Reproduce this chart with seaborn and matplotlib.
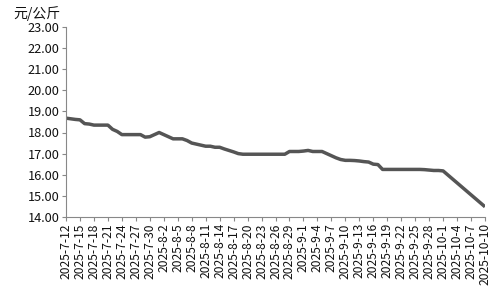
import matplotlib
matplotlib.use("Agg")
import matplotlib.pyplot as plt
import matplotlib.dates as mdates
import seaborn as sns
import pandas as pd

# daily dates 2025-7-12 .. 2025-10-1, then 2025-10-10
dates_main = pd.date_range("2025-07-12", "2025-10-01", freq="D")
dates = list(dates_main) + [pd.Timestamp("2025-10-10")]

prices = [
    18.68, 18.65, 18.62, 18.60, 18.42, 18.40, 18.35, 18.35, 18.35, 18.35,  # 7-12..7-21
    18.15, 18.05, 17.90, 17.90, 17.90, 17.90, 17.90, 17.78, 17.80, 17.90,  # 7-22..7-31
    18.00, 17.90, 17.80, 17.70, 17.70, 17.70, 17.62, 17.50, 17.45, 17.40,  # 8-1..8-10
    17.35, 17.35, 17.30, 17.30, 17.22, 17.15, 17.08, 17.00, 16.97, 16.97,  # 8-11..8-20
    16.97, 16.97, 16.97, 16.97, 16.97, 16.97, 16.97, 16.97, 17.10, 17.10,  # 8-21..8-30
    17.10, 17.12, 17.15, 17.10, 17.10, 17.10, 17.00, 16.90, 16.80, 16.72,  # 8-31..9-9
    16.68, 16.68, 16.67, 16.65, 16.62, 16.60, 16.50, 16.48, 16.25, 16.25,  # 9-10..9-19
    16.25, 16.25, 16.25, 16.25, 16.25, 16.25, 16.25, 16.24, 16.22, 16.20,  # 9-20..9-29
    16.20, 16.18,                                                          # 9-30..10-1
    14.48,                                                                 # 10-10
]

tick_dates = pd.date_range("2025-07-12", "2025-10-10", freq="3D")
tick_labels = [f"{d.year}-{d.month}-{d.day}" for d in tick_dates]
y_ticks = [14, 15, 16, 17, 18, 19, 20, 21, 22, 23]
unit_label = "元/公斤"

df = pd.DataFrame({"date": dates, "price": prices})

sns.set_theme(style="white")
plt.rcParams["font.family"] = ["Noto Sans CJK SC", "DejaVu Sans"]

fig = plt.figure(figsize=(5, 3), dpi=100)
ax = fig.add_axes([0.132, 0.277, 0.838, 0.633])

sns.lineplot(data=df, x="date", y="price", ax=ax, color="#555555",
             linewidth=2.5, solid_capstyle="butt")

ax.set_xlim(pd.Timestamp("2025-07-12"), pd.Timestamp("2025-10-10"))
ax.set_ylim(14, 23)
ax.set_yticks(y_ticks)
ax.set_yticklabels([f"{v:.2f}" for v in y_ticks], fontsize=9.2, color="#111111",
                   fontweight="medium")
ax.set_xticks(tick_dates)
ax.set_xticklabels(tick_labels, rotation=90, fontsize=8.7, color="#111111",
                   fontweight="medium")
ax.set_xlabel("")
ax.set_ylabel("")

for s in ["top", "right"]:
    ax.spines[s].set_visible(False)
for s in ["left", "bottom"]:
    ax.spines[s].set_color("#888888")
    ax.spines[s].set_linewidth(0.8)
ax.tick_params(axis="both", which="major", length=3, width=0.8, color="#888888",
               pad=1.5, direction="out", bottom=True, left=True)

fig.text(0.026, 0.955, unit_label, fontsize=10, color="#111111", va="center", ha="left")

fig.savefig("out.png", dpi=100)
